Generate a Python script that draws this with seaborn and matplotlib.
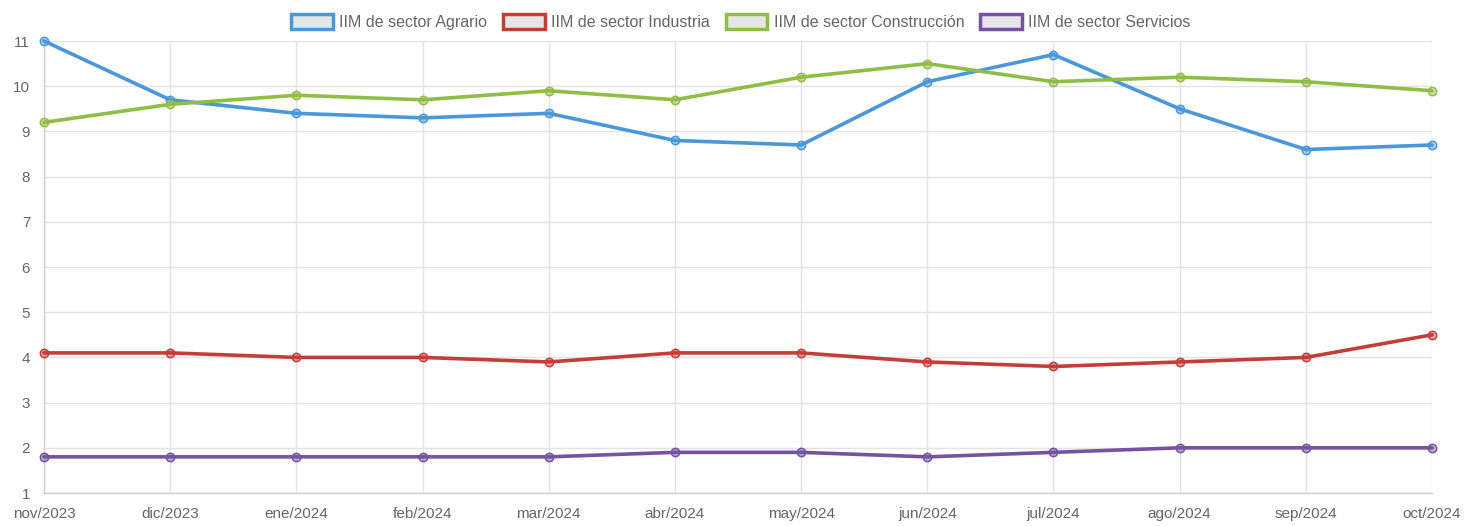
import matplotlib
matplotlib.use("Agg")
import matplotlib.pyplot as plt
from matplotlib.patches import Patch
import seaborn as sns
import pandas as pd

meses = ["nov/2023", "dic/2023", "ene/2024", "feb/2024", "mar/2024", "abr/2024",
         "may/2024", "jun/2024", "jul/2024", "ago/2024", "sep/2024", "oct/2024"]

agrario = [11.0, 9.7, 9.4, 9.3, 9.4, 8.8, 8.7, 10.1, 10.7, 9.5, 8.6, 8.7]
industria = [4.1, 4.1, 4.0, 4.0, 3.9, 4.1, 4.1, 3.9, 3.8, 3.9, 4.0, 4.5]
construccion = [9.2, 9.6, 9.8, 9.7, 9.9, 9.7, 10.2, 10.5, 10.1, 10.2, 10.1, 9.9]
servicios = [1.8, 1.8, 1.8, 1.8, 1.8, 1.9, 1.9, 1.8, 1.9, 2.0, 2.0, 2.0]

series = ["IIM de sector Agrario", "IIM de sector Industria",
          "IIM de sector Construcción", "IIM de sector Servicios"]
colores = ["#4a97d9", "#c43d39", "#8fbd45", "#7652a0"]

sns.set_style("white")
plt.rcParams["font.family"] = ["Liberation Sans", "DejaVu Sans"]

fig = plt.figure(figsize=(14.82, 5.26), dpi=100)
ax = fig.add_axes([0.0297, 0.0627, 0.9366, 0.8593])

for nombre, valores, color in zip(series, [agrario, industria, construccion, servicios], colores):
    df = pd.DataFrame({"mes": range(len(meses)), "valor": valores})
    sns.lineplot(data=df, x="mes", y="valor", ax=ax, color=color, linewidth=2.6,
                 marker="o", markersize=6, markeredgewidth=1.1,
                 markerfacecolor=matplotlib.colors.to_rgba(color, 0.45),
                 markeredgecolor=color, clip_on=False, sort=False, zorder=3)

ax.set_xlim(0, len(meses) - 1)
ax.set_ylim(1, 11)
ax.set_xticks(range(len(meses)))
ax.set_xticklabels(meses)
ax.set_yticks(range(1, 12))
ax.set_xlabel("")
ax.set_ylabel("")
ax.grid(True, color="#e3e3e3", linewidth=1)
ax.tick_params(axis="both", colors="#d9d9d9", labelcolor="#666666", labelsize=11,
               length=7, width=1, direction="out", pad=3)
for side in ["top", "right"]:
    ax.spines[side].set_visible(False)
for side in ["left", "bottom"]:
    ax.spines[side].set_color("#d0d0d0")
    ax.spines[side].set_linewidth(1)

handles = [Patch(facecolor="#e6e6e6", edgecolor=c, linewidth=2.5) for c in colores]
fig.legend(handles, series, loc="upper center", bbox_to_anchor=(0.5, 1.0), ncol=4,
           frameon=False, fontsize=11.5, labelcolor="#666666",
           handlelength=2.6, handleheight=1.0, handletextpad=0.4, columnspacing=1.0)

fig.savefig("out.png", dpi=100)
